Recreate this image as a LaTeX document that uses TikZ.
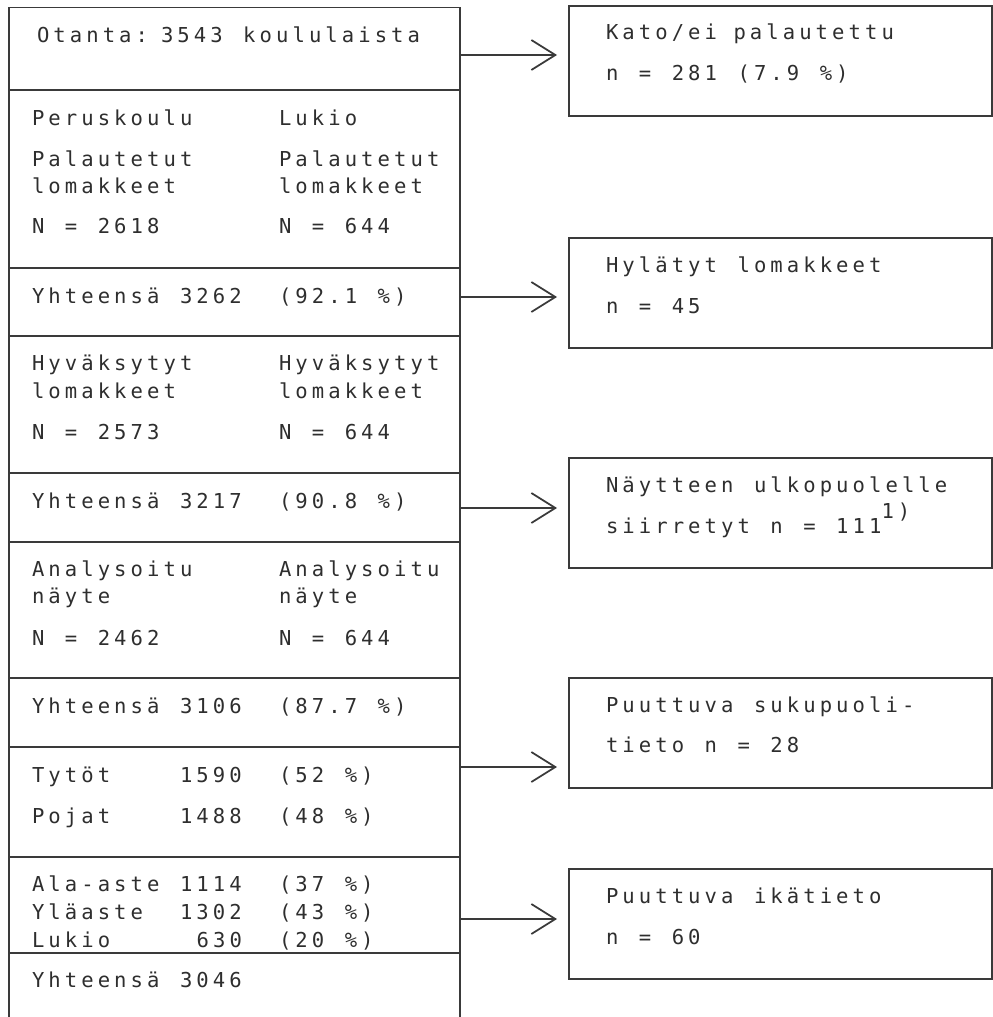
\documentclass[tikz,border=0pt]{standalone}
\usepackage{fontspec}
\usetikzlibrary{arrows.meta}
% typewriter-like monospaced face, tracked out to a wide pitch
\newfontfamily\twfont[LetterSpace=19.8]{DejaVu Sans Mono}
\newlength\twone
\newlength\twtwo
\newlength\twgap
% select the face and work out the gap that keeps words on the character grid
\newcommand\tw{\twfont\fontsize{11.7}{14}\selectfont
  \settowidth\twone{x}\settowidth\twtwo{xx}%
  \setlength\twgap{\dimexpr 2\twtwo-3\twone\relax}}
\ExplSyntaxOn
\seq_new:N \l__tw_words_seq
% set a line word by word, one grid cell per blank
\NewDocumentCommand \tx { m }
  {
    \seq_set_split:Nnn \l__tw_words_seq { ~ } { #1 }
    \seq_use:Nn \l__tw_words_seq { \kern\twgap }
  }
\ExplSyntaxOff
\definecolor{ink}{HTML}{2E2E2E}
\definecolor{lineink}{HTML}{3A3A3A}
\tikzset{
  txt/.style={anchor=base west, inner sep=0pt, outer sep=0pt, font=\tw, text=ink},
  frame/.style={draw=lineink, line width=1pt},
  outbox/.style={draw=lineink, line width=1pt, rectangle, inner sep=0pt,
    anchor=north west, minimum width=8.47cm, minimum height=2.2cm},
  arr/.style={draw=lineink, line width=1pt, shorten >=0.22cm,
    -{Straight Barb[length=0.48cm,width=0.6cm,line width=1pt]}},
}
\begin{document}
\begin{tikzpicture}[x=0.02cm,y=-0.02cm]
\useasboundingbox (0,0) rectangle (993,1017);

% left column: one tall frame divided into cells
\draw[frame] (9,1017) -- (9,7.5) -- (460,7.5) -- (460,1017);
\foreach \yy in {90,268,336,473,542,678,747,857,953}
  \draw[frame] (9,\yy) -- (460,\yy);

% cell texts
\node[txt] (ota) at (37,43) {Otanta:};
\node[txt] (otb) at (161,43) {\tx{3543 koululaista}};

\node[txt] (pk1) at (32,126) {Peruskoulu};
\node[txt] (lk1) at (279,126) {Lukio};
\node[txt] (pk2) at (32,166) {Palautetut};
\node[txt] (lk2) at (279,166) {Palautetut};
\node[txt] (pk3) at (32,193) {lomakkeet};
\node[txt] (lk3) at (279,193) {lomakkeet};
\node[txt] (pk4) at (32,233) {\tx{N = 2618}};
\node[txt] (lk4) at (279,233) {\tx{N = 644}};

\node[txt] (y1a) at (32,303) {\tx{Yhteensä 3262}};
\node[txt] (y1b) at (279,303) {\tx{(92.1 \%)}};

\node[txt] (hp1) at (32,370) {Hyväksytyt};
\node[txt] (hl1) at (279,370) {Hyväksytyt};
\node[txt] (hp2) at (32,398) {lomakkeet};
\node[txt] (hl2) at (279,398) {lomakkeet};
\node[txt] (hp3) at (32,439) {\tx{N = 2573}};
\node[txt] (hl3) at (279,439) {\tx{N = 644}};

\node[txt] (y2a) at (32,508) {\tx{Yhteensä 3217}};
\node[txt] (y2b) at (279,508) {\tx{(90.8 \%)}};

\node[txt] (ap1) at (32,576) {Analysoitu};
\node[txt] (al1) at (279,576) {Analysoitu};
\node[txt] (ap2) at (32,603) {näyte};
\node[txt] (al2) at (279,603) {näyte};
\node[txt] (ap3) at (32,645) {\tx{N = 2462}};
\node[txt] (al3) at (279,645) {\tx{N = 644}};

\node[txt] (y3a) at (32,713) {\tx{Yhteensä 3106}};
\node[txt] (y3b) at (279,713) {\tx{(87.7 \%)}};

\node[txt] (ga) at (32,782) {Tytöt};
\node[txt] (gb) at (180,782) {1590};
\node[txt] (gc) at (279,782) {\tx{(52 \%)}};
\node[txt] (ba) at (32,823) {Pojat};
\node[txt] (bb) at (180,823) {1488};
\node[txt] (bc) at (279,823) {\tx{(48 \%)}};

\node[txt] (aa) at (32,891) {Ala-aste};
\node[txt] (ab) at (180,891) {1114};
\node[txt] (ac) at (279,891) {\tx{(37 \%)}};
\node[txt] (ya) at (32,919) {Yläaste};
\node[txt] (yb) at (180,919) {1302};
\node[txt] (yc) at (279,919) {\tx{(43 \%)}};
\node[txt] (la) at (32,947) {Lukio};
\node[txt] (lb) at (196.7,947) {630};
\node[txt] (lc) at (279,947) {\tx{(20 \%)}};

\node[txt] (y4a) at (32,987) {\tx{Yhteensä 3046}};

% boxes for the excluded groups
\node[outbox] (k1) at (568,5) {};
\node[outbox] (k2) at (568,237) {};
\node[outbox] (k3) at (568,457) {};
\node[outbox] (k4) at (568,677) {};
\node[outbox] (k5) at (568,868) {};

\node[txt] (k1a) at (606,40) {Kato/ei palautettu};
\node[txt] (k1b) at (606,81) {\tx{n = 281 (7.9 \%)}};
\node[txt] (k2a) at (606,272) {\tx{Hylätyt lomakkeet}};
\node[txt] (k2b) at (606,313) {\tx{n = 45}};
\node[txt] (k3a) at (606,492) {\tx{Näytteen ulkopuolelle}};
\node[txt] (k3b) at (606,533) {\tx{siirretyt n = 111\raisebox{0.3cm}{1)}}};
\node[txt] (k4a) at (606,712) {\tx{Puuttuva sukupuoli-}};
\node[txt] (k4b) at (606,752) {\tx{tieto n = 28}};
\node[txt] (k5a) at (606,903) {\tx{Puuttuva ikätieto}};
\node[txt] (k5b) at (606,944) {\tx{n = 60}};

% arrows leaving the right edge of the column
\coordinate (s1) at (460,55);
\coordinate (s2) at (460,297);
\coordinate (s3) at (460,508);
\coordinate (s4) at (460,767);
\coordinate (s5) at (460,919);
\draw[arr] (s1) -- (s1 -| k1.west);
\draw[arr] (s2) -- (s2 -| k2.west);
\draw[arr] (s3) -- (s3 -| k3.west);
\draw[arr] (s4) -- (s4 -| k4.west);
\draw[arr] (s5) -- (s5 -| k5.west);
\end{tikzpicture}
\end{document}
